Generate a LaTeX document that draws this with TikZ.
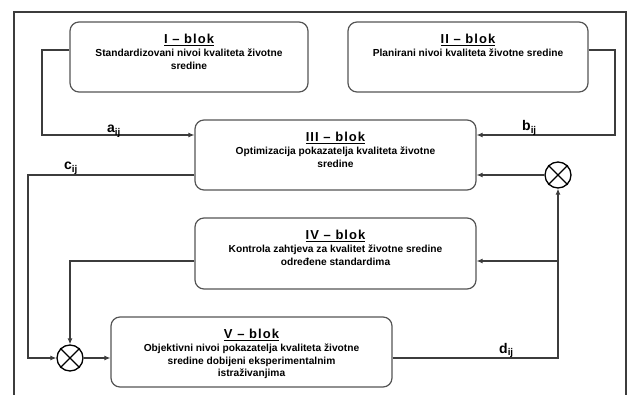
\documentclass[tikz,border=0pt]{standalone}
\usepackage{fontspec}
\setmainfont{Liberation Sans}
\usetikzlibrary{arrows.meta}
\definecolor{lineclr}{RGB}{60,60,60}
\definecolor{boxclr}{RGB}{85,85,85}

% block text: width, height, number, body
\newcommand{\blokbox}[4]{\parbox[t][#2][t]{#1}{\centering\fontsize{10.2}{12.8}\selectfont
  \vspace*{12pt}{\fontsize{13}{13}\selectfont\addfontfeatures{LetterSpace=8}\underline{#3 -- blok}}\\#4}}

\begin{document}
\begin{tikzpicture}[x=1pt,y=-1pt,
  blok/.style={draw=boxclr, line width=1.2pt, rounded corners=9pt, inner sep=0pt, font=\bfseries},
  mnozac/.style={draw=black, line width=1.3pt, circle, minimum size=26pt, inner sep=0pt},
  veza/.style={draw=lineclr, line width=1.1pt, -{Latex[length=6pt,width=5pt]}},
  oznaka/.style={font=\fontsize{14}{14}\selectfont\bfseries, inner sep=0pt, anchor=base west}]
\useasboundingbox (0,0) rectangle (628,395);

% Frame
\draw[lineclr, line width=1.3pt] (14,395) -- (14,12) -- (626,12) -- (626,395);

% Blocks
\node[blok] (b1) at (189,57) {\blokbox{238pt}{70pt}{I}{Standardizovani nivoi kvaliteta životne\\sredine}};
\node[blok] (b2) at (468,57) {\blokbox{240pt}{70pt}{II}{Planirani nivoi kvaliteta životne sredine}};
\node[blok] (b3) at (335.5,155) {\blokbox{281pt}{70pt}{III}{Optimizacija pokazatelja kvaliteta životne\\sredine}};
\node[blok] (b4) at (335.5,253.5) {\blokbox{281pt}{71pt}{IV}{Kontrola zahtjeva za kvalitet životne sredine\\određene standardima}};
\node[blok] (b5) at (251.5,352) {\blokbox{281pt}{70pt}{V}{Objektivni nivoi pokazatelja kvaliteta životne\\sredine dobijeni eksperimentalnim\\istraživanjima}};

% Multipliers
\node[mnozac] (x1) at (558,175) {};
\node[mnozac] (x2) at (70,358) {};
\foreach \m in {x1,x2}
  \draw[line width=1.3pt] (\m.north west) -- (\m.south east) (\m.north east) -- (\m.south west);

% Connectors
\draw[veza] (b1.west |- 0,50) -- (42,50) -- (42,135) -- (b3.west |- 0,135);
\draw[veza] (b2.east |- 0,50) -- (615,50) -- (615,135) -- (b3.east |- 0,135);
\draw[veza] (x1.west) -- (x1.west -| b3.east);
\draw[veza] (b3.west |- 0,175) -- (28,175) -- (28,358) -- (x2.west);
\draw[veza] (b4.west |- 0,261) -| (x2.north);
\draw[veza] (x2.east) -- (x2.east -| b5.west);
\draw[veza] (b5.east |- x2.east) -| (x1.south);
\draw[veza] (x1.south |- 0,261) -- (b4.east |- 0,261);

% Labels
\node[oznaka] (la) at (107,133) {a\textsubscript{ij}};
\node[oznaka] (lb) at (522,131) {b\textsubscript{ij}};
\node[oznaka] (lc) at (64,170) {c\textsubscript{ij}};
\node[oznaka] (ld) at (499,353) {d\textsubscript{ij}};
\end{tikzpicture}
\end{document}
